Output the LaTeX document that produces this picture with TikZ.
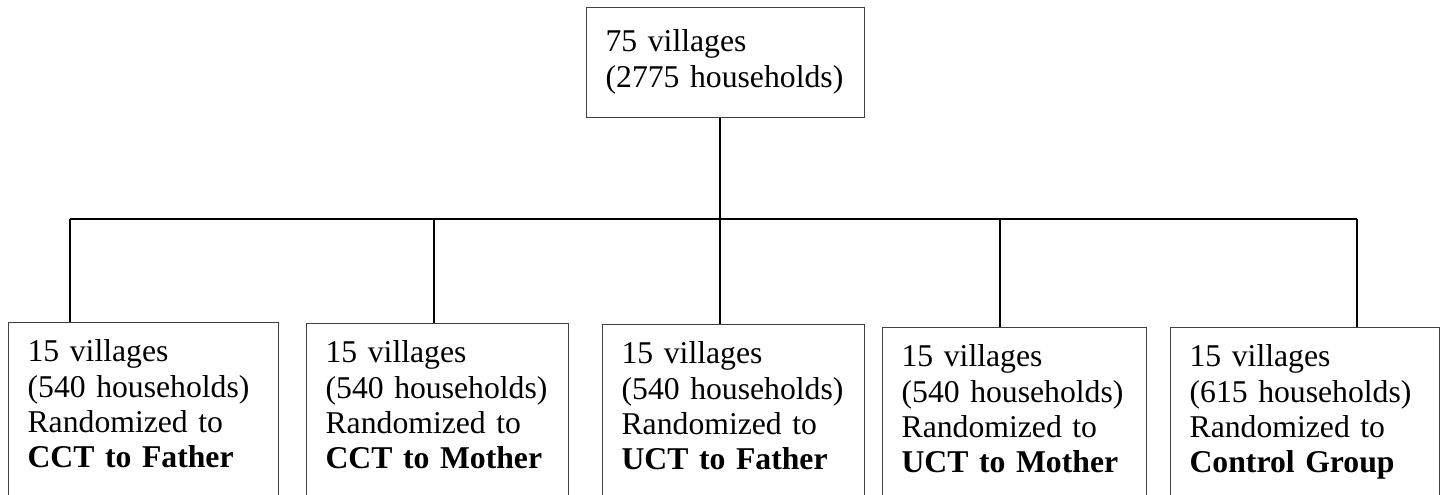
\documentclass[tikz,border=0pt]{standalone}
\usepackage{fontspec}
\setmainfont{Liberation Serif}
\usepackage{tikz}
\hyphenpenalty=10000
\exhyphenpenalty=10000

\tikzset{
  grpbox/.style={draw=black!75,line width=0.6pt,anchor=north west,align=left,
    inner xsep=9.5pt,inner ysep=8.5pt,text height=11pt,
    font=\fontsize{15.85pt}{17.7pt}\selectfont},
  armbox/.style={grpbox,text depth=90pt},
  link/.style={line width=0.9pt}
}

\begin{document}
\begin{tikzpicture}[x=0.5pt,y=-0.5pt]
			\useasboundingbox (0,0) rectangle (1447,494);
			\clip (0,0) rectangle (1447,494);
			\node[grpbox,text width=120pt,text height=13.5pt,text depth=24.5pt] (all) at (586,7) {75 villages\\(2775~households)};
			\node[armbox,text width=116pt] (b1) at (8,322) {15 villages\\(540~households)\\Randomized to\\\textbf{CCT~to~Father}};
			\node[armbox,text width=112pt] (b2) at (306,323) {15 villages\\(540~households)\\Randomized to\\\textbf{CCT~to~Mother}};
			\node[armbox,text width=112pt] (b3) at (602,324) {15 villages\\(540~households)\\Randomized to\\\textbf{UCT~to~Father}};
			\node[armbox,text width=113pt] (b4) at (882,327) {15 villages\\(540~households)\\Randomized to\\\textbf{UCT~to~Mother}};
			\node[armbox,text width=115.5pt] (b5) at (1170,327) {15 villages\\(615~households)\\Randomized to\\\textbf{Control~Group}};
			\coordinate (j1) at (70,219);
			\coordinate (j2) at (434,219);
			\coordinate (j3) at (720,219);
			\coordinate (j4) at (1000,219);
			\coordinate (j5) at (1357,219);
			\draw[link] (j3 |- all.south) -- (j3);
			\draw[link] (j1) -- (j5);
			\foreach \i in {1,...,5}
				\draw[link] (j\i) -- (j\i |- b\i.north);
		\end{tikzpicture}
\end{document}
